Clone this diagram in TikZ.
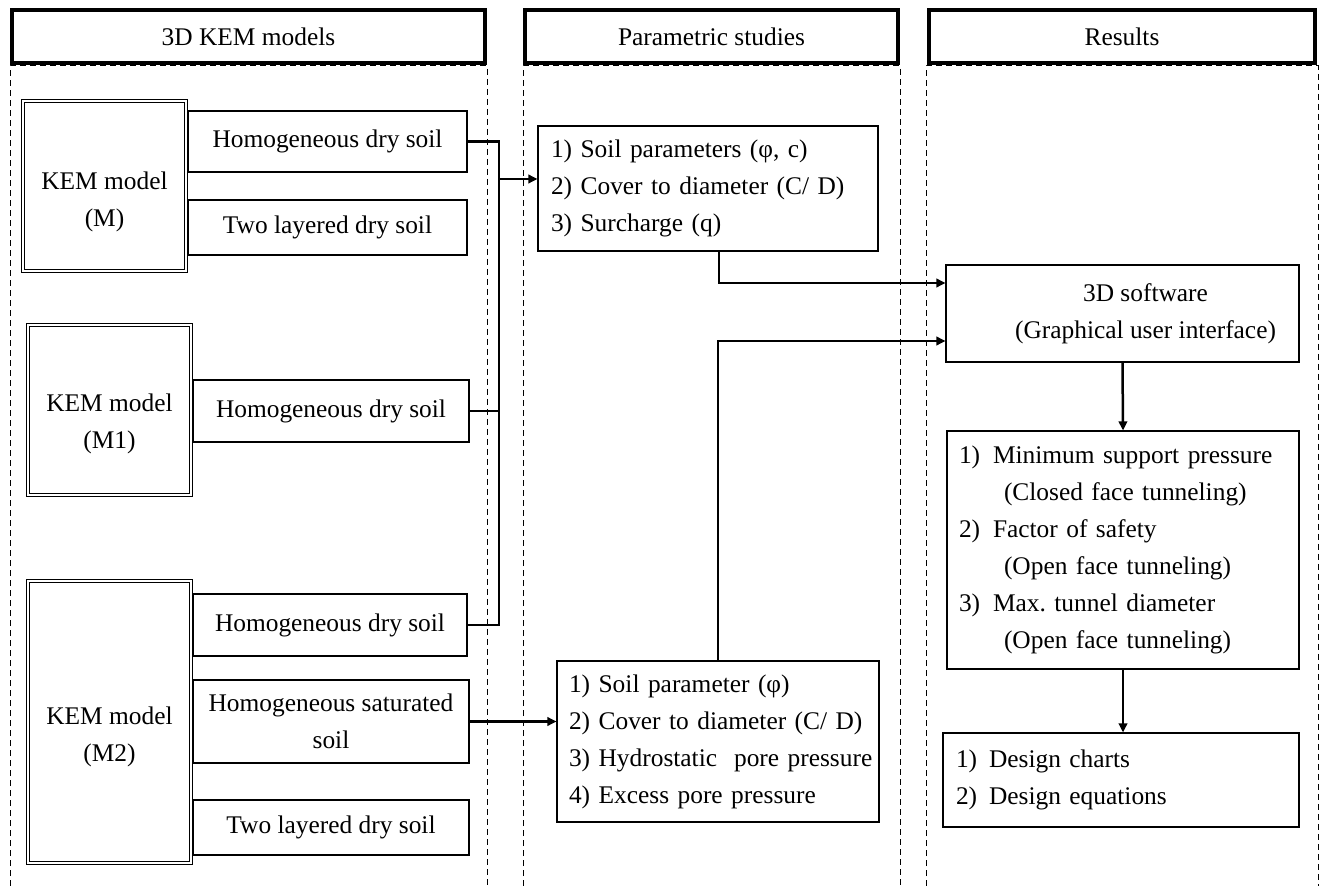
\documentclass[tikz,border=0pt]{standalone}
\usepackage{fontspec}
\setmainfont{Liberation Serif}
\usetikzlibrary{arrows.meta}
\frenchspacing
\tikzset{
  every node/.style={font=\fontsize{12.7}{18.5}\selectfont},
  hdr/.style={draw, line width=1.75pt, minimum height=26.5pt, inner sep=0pt},
  kem/.style={draw, double=white, double distance=1pt, line width=0.6pt, inner sep=0pt, minimum width=81.5pt},
  soil/.style={draw, line width=0.55pt, inner sep=0pt, align=center},
  listbox/.style={draw, line width=0.55pt, inner ysep=0pt, align=left},
  conn/.style={line width=1.25pt},
  arr/.style={line width=1.25pt, -{Triangle[length=4.5pt,width=4.2pt]}},
  dashcol/.style={line width=0.5pt, dash pattern=on 3pt off 2pt}
}
\begin{document}
\begin{tikzpicture}[x=0.5pt,y=-0.5pt]
\useasboundingbox (0,0) rectangle (1326,886);
% columns
\draw[dashcol] (10,886) -- (10,66) -- (487,66) -- (487,886);
\draw[dashcol] (523,886) -- (523,66) -- (900,66) -- (900,886);
\draw[dashcol] (926,886) -- (926,66) -- (1318,66) -- (1318,886);
% headers
\node[hdr, minimum width=236.5pt] (h1) at (248.5,36.5) {3D KEM models};
\node[hdr, minimum width=186.5pt] (h2) at (711.5,36.5) {Parametric studies};
\node[hdr, minimum width=193pt] (h3) at (1122,36.5) {Results};
% KEM boxes
\node[kem, minimum height=85pt, label={[align=center,yshift=-8pt]center:KEM model\\(M)}] (m) at (104.5,186) {};
\node[kem, minimum height=85pt, label={[align=center,yshift=-7pt]center:KEM model\\(M1)}] (m1) at (109.5,410) {};
\node[kem, minimum height=141pt, label={[align=center,yshift=-7.5pt]center:KEM model\\(M2)}] (m2) at (109.5,722) {};
% soil boxes
\node[soil, minimum width=139.5pt, minimum height=30.5pt] (s1) at (327.5,141.5) {Homogeneous dry soil};
\node[soil, minimum width=139.5pt, minimum height=27.5pt] (s2) at (327.5,227.5) {Two layered dry soil};
\node[soil, minimum width=138pt, minimum height=31pt] (s3) at (331,411) {Homogeneous dry soil};
\node[soil, minimum width=137pt, minimum height=31pt] (s4) at (330,625) {Homogeneous dry soil};
\node[soil, minimum width=138pt, minimum height=41.5pt] (s5) at (331,721.5) {Homogeneous saturated\\soil};
\node[soil, minimum width=138pt, minimum height=27.5pt] (s6) at (331,827.5) {Two layered dry soil};
% parametric boxes
\node[listbox, inner xsep=6.5pt, text width=157pt, minimum height=62.5pt] (p1) at (708,188.5)
  {1) Soil parameters (φ, c)\\\mbox{2) Cover to diameter (C/ D)}\\3) Surcharge (q)};
\node[listbox, inner xsep=6pt, text width=149pt, minimum height=80.5pt] (p2) at (718,741.5)
  {1) Soil parameter (φ)\\\mbox{2) Cover to diameter (C/ D)}\\\mbox{3) Hydrostatic\ \ pore pressure}\\4) Excess pore pressure};
% results
\node[soil, minimum width=176.5pt, minimum height=48.5pt] (sw) at (1122.5,313.5)
  {\hspace*{23pt}3D software\\\hspace*{23pt}(Graphical user interface)};
\node[listbox, inner xsep=6pt, text width=164pt, minimum height=119pt] (res) at (1123,550)
  {\makebox[17pt][l]{1)}Minimum support pressure\\
   \hspace*{22.5pt}(Closed face tunneling)\\
   \makebox[17pt][l]{2)}Factor of safety\\
   \hspace*{22.5pt}(Open face tunneling)\\
   \makebox[17pt][l]{3)}Max. tunnel diameter\\
   \hspace*{22.5pt}(Open face tunneling)};
\node[listbox, inner xsep=6.5pt, text width=165pt, minimum height=47pt] (des) at (1121,780)
  {\makebox[16.5pt][l]{1)}Design charts\\\makebox[16.5pt][l]{2)}Design equations};
% connectors
\coordinate (busTop) at (499,141.5);
\coordinate (busBot) at (499,625);
\coordinate (j1) at (499,179);
\coordinate (c1) at (719,283);
\coordinate (c2) at (718,341);
\draw[conn] (s1.east) -- (busTop) -- (busBot) -- (s4.east);
\draw[conn] (s3.east) -- (s3.east -| busTop);
\draw[arr] (j1) -- (j1 -| p1.west);
\draw[arr] (s5.east) -- (s5.east -| p2.west);
\draw[arr] (c1 |- p1.south) -- (c1) -- (c1 -| sw.west);
\draw[arr] (c2 |- p2.north) -- (c2) -- (c2 -| sw.west);
\draw[arr] (sw.south) -- (res.north);
\draw[arr] (res.south) -- (res.south |- des.north);
\end{tikzpicture}
\end{document}
